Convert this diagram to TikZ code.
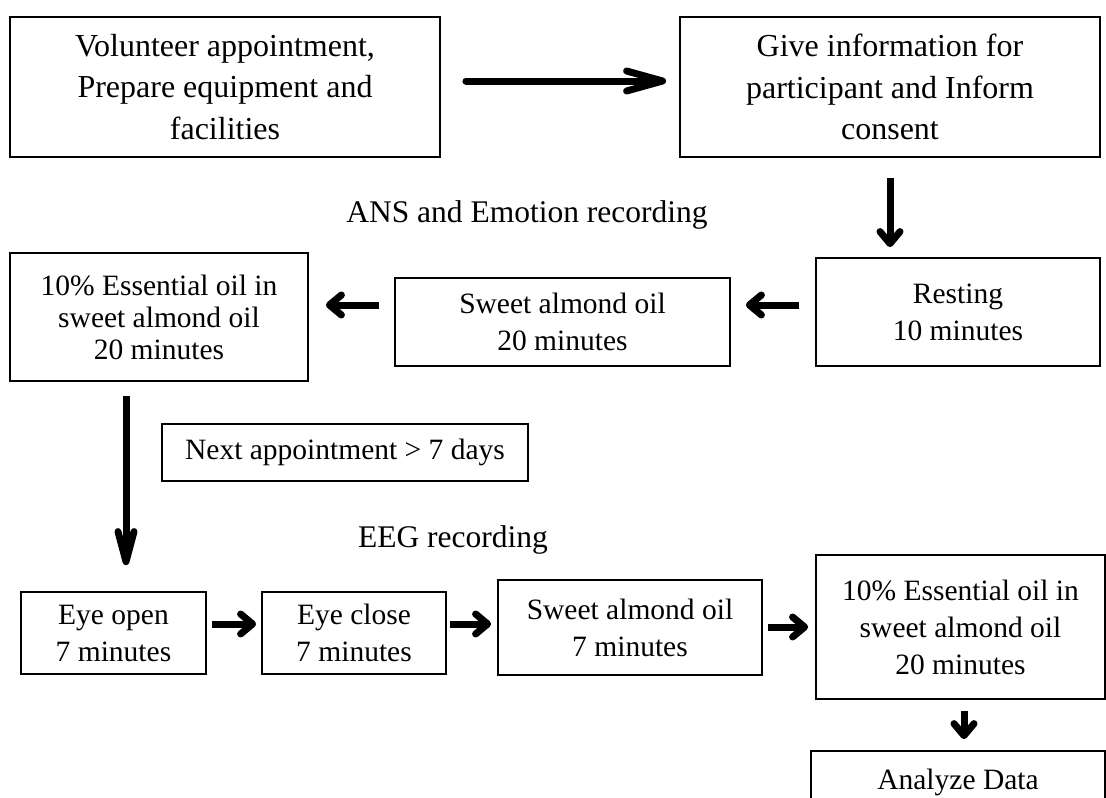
\documentclass[tikz,border=0pt]{standalone}
\usepackage{fontspec}
\setmainfont{Liberation Serif}
\usetikzlibrary{arrows.meta}
\begin{document}
\begin{tikzpicture}[x=1pt,y=-1pt,
  box/.style={draw, line width=1.8pt, inner sep=0pt, align=center, font=\fontsize{29.5}{37}\selectfont},
  bigbox/.style={box, font=\fontsize{32}{41.5}\selectfont},
  lbl/.style={inner sep=0pt, font=\fontsize{31.5}{36}\selectfont},
  bigarr/.style={line width=7pt, line cap=round, -{Straight Barb[length=36pt,width=20pt,round]}},
  smallarr/.style={line width=7pt, -{Straight Barb[length=12pt,width=20pt,round]}},
  longarr/.style={line width=7pt, -{Straight Barb[length=30pt,width=16pt,round]}}]
\clip (0,0) rectangle (1106,798);
\fill[white] (0,0) rectangle (1106,798);

\node[bigbox, minimum width=430pt, minimum height=140pt] (b1) at (225,87)
  {Volunteer appointment,\\ Prepare equipment and\\ facilities};
\node[bigbox, minimum width=420pt, minimum height=140pt] (b2) at (890,87)
  {Give information for\\ participant and Inform\\ consent};
\node[lbl] (ans) at (527,215) {ANS and Emotion recording};
\node[box, minimum width=284pt, minimum height=108pt] (rs) at (958,312) {Resting\\ 10 minutes};
\node[box, minimum width=335pt, minimum height=88pt] (sw) at (562.5,322) {Sweet almond oil\\ 20 minutes};
\node[box, minimum width=298pt, minimum height=128pt, font=\fontsize{29.5}{32}\selectfont] (lb) at (159,317)
  {10\% Essential oil in\\ sweet almond oil\\ 20 minutes};
\node[box, minimum width=366pt, minimum height=57pt] (nb) at (345,452.5) {Next appointment > 7 days};
\node[lbl] (eeg) at (453,540) {EEG recording};
\node[box, minimum width=185pt, minimum height=82pt] (eo) at (113.5,633) {Eye open\\ 7 minutes};
\node[box, minimum width=184pt, minimum height=82pt] (ec) at (354,633) {Eye close\\ 7 minutes};
\node[box, minimum width=264pt, minimum height=95pt] (s2) at (630,627.5) {Sweet almond oil\\ 7 minutes};
\node[box, minimum width=289pt, minimum height=144pt] (eb) at (960.5,627)
  {10\% Essential oil in\\ sweet almond oil\\ 20 minutes};
\node[box, minimum width=294pt, minimum height=62pt] (ad) at (958,782) {Analyze Data};

\draw[bigarr] ([shift={(25,-6)}]b1.east) -- ([shift={(-13,-6)}]b2.west);
\draw[smallarr] ([yshift=-20pt]b2.south) -- ([yshift=10pt]b2.south |- rs.north);
\draw[smallarr] ([shift={(-16,-7)}]rs.west) -- ([shift={(15,-17)}]sw.east);
\draw[smallarr] ([shift={(-15,-17)}]sw.west) -- ([shift={(17,-12)}]lb.east);
\draw[longarr] ([shift={(-33,14)}]lb.south) -- ([shift={(12.5,-26)}]eo.north);
\draw[smallarr] ([shift={(5,-9)}]eo.east) -- ([shift={(-5,-9)}]ec.west);
\draw[smallarr] ([shift={(3,-9)}]ec.east) -- ([shift={(-6,-3.5)}]s2.west);
\draw[smallarr] ([shift={(5,-0.5)}]s2.east) -- ([shift={(-7,0)}]eb.west);
\draw[smallarr] ([shift={(3.5,11)}]eb.south) -- ([shift={(6,-11)}]ad.north);
\end{tikzpicture}
\end{document}
